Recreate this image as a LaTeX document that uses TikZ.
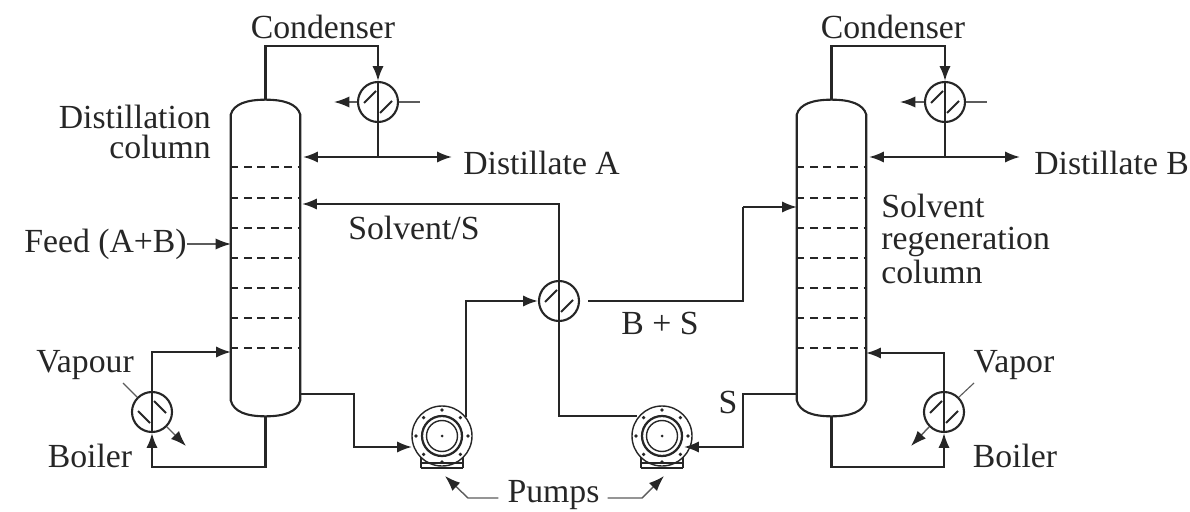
\documentclass[tikz,border=0pt]{standalone}
\usepackage{fontspec}
\setmainfont{Liberation Serif}
\usetikzlibrary{arrows.meta,positioning,calc}
\definecolor{ink}{gray}{0.15}
\tikzstyle{pipe} = [draw=ink, line width=1.5pt]
\tikzstyle{flow} = [pipe, -{Latex[length=10.5pt,width=8pt]}]
\tikzstyle{thinline} = [draw=ink!75, line width=0.8pt]
\tikzstyle{thinflow} = [draw=ink!75, line width=1pt, -{Latex[length=11pt,width=8pt,color=ink]}]
\tikzstyle{hx} = [circle, draw=ink, line width=1.5pt, minimum size=1cm, inner sep=0pt]
\tikzstyle{tower} = [rectangle, minimum width=1.725cm, minimum height=7.9cm, inner sep=0pt]
\tikzstyle{pumpbody} = [circle, draw=ink, line width=1pt, minimum size=1.5cm, inner sep=0pt]
\tikzstyle{label} = [inner sep=0pt, text=ink, font=\fontsize{24}{21.5}\selectfont]

% heat exchanger: name, position, +1 or -1 for the slant
\newcommand{\exchanger}[3]{
  \node[hx] (#1) at (#2) {};
  \draw[pipe,line width=1.3pt] (#1.north) -- (#1.south);
  \draw[pipe,line width=1.3pt] ($(#1)+(#3*-14,1)$) -- ($(#1)+(#3*-2,-11)$);
  \draw[pipe,line width=1.3pt] ($(#1)+(#3*2,11)$) -- ($(#1)+(#3*14,-1)$);
}
% column with its trays: name, position
\newcommand{\column}[2]{
  \node[tower] (#1) at (#2) {};
  \draw[pipe] ($(#1.north west)+(0,15)$) .. controls ($(#1.north west)+(3,4)$) and ($(#1.north)+(-18,0)$) .. (#1.north)
    .. controls ($(#1.north)+(18,0)$) and ($(#1.north east)+(-3,4)$) .. ($(#1.north east)+(0,15)$)
    -- ($(#1.south east)+(0,-16)$)
    .. controls ($(#1.south east)+(-3,-4)$) and ($(#1.south)+(18,0)$) .. (#1.south)
    .. controls ($(#1.south)+(-18,0)$) and ($(#1.south west)+(3,-4)$) .. ($(#1.south west)+(0,-16)$)
    -- cycle;
  \foreach \y in {67,98,128,158,188,218,248}
    \draw[pipe, dash pattern=on 5.5pt off 4pt, line width=1.3pt] ($(#1.north west)+(0,\y)$) -- ($(#1.north east)+(0,\y)$);
}
% pump: name, position
\newcommand{\pump}[2]{
  \node[pumpbody] (#1) at (#2) {};
  \draw[ink,line width=1pt] ($(#1)+(-21,32)$) -- ($(#1)+(21,32)$);
  \draw[ink,line width=1pt] ($(#1)+(-21,27)$) -- ($(#1)+(21,27)$);
  \draw[ink,line width=1pt] ($(#1)+(-21,32)$) -- ($(#1)+(-21,21)$);
  \draw[ink,line width=1pt] ($(#1)+(21,32)$) -- ($(#1)+(21,21)$);
  \draw[ink,line width=1.6pt] (#1) circle (20);
  \draw[ink,line width=1pt] (#1) circle (15.5);
  \fill[ink] (#1) circle (1.5);
  \foreach \a in {45,90,...,360}
    \fill[ink] ($(#1)+(\a:26)$) circle (1.8);
}

\begin{document}
\begin{tikzpicture}[x=0.025cm,y=-0.025cm]
\useasboundingbox (0,0) rectangle (1190,512);

% Columns
\column{col1}{265.5,258}
\column{col2}{831.5,258}

% Exchangers
\exchanger{cond1}{378,102}{1}
\exchanger{cond2}{945,102}{1}
\exchanger{boil1}{152,412}{-1}
\exchanger{boil2}{944,412}{1}
\exchanger{mid}{559,301}{1}

% Pumps
\pump{pump1}{442,436}
\pump{pump2}{662,436}

% Labels
\node[label] (lcond1) at (323,27) {Condenser};
\node[label] (lcond2) at (893,27) {Condenser};
\node[label,align=right,anchor=east] (lcol1) at (211,132) {Distillation\\column};
\node[label,align=left,anchor=west] (lcol2) at (881,239) {Solvent\\[1.5pt]regeneration\\[1.5pt]column};
\node[label,anchor=west] (lfeed) at (24,244) {Feed (A+B)};
\node[label,anchor=west] (ldist1) at (463,163) {Distillate A};
\node[label,anchor=west] (ldist2) at (1034,163) {Distillate B};
\node[label,anchor=west] (lsolv) at (348,228) {Solvent/S};
\node[label] (lbs) at (660,323) {B + S};
\node[label] (ls) at (728,402) {S};
\node[label] (lvap1) at (85,365) {Vapour};
\node[label] (lvap2) at (1014,365) {Vapor};
\node[label] (lboil1) at (90,456) {Boiler};
\node[label] (lboil2) at (1015,456) {Boiler};
\node[label] (lpumps) at (553.5,495) {Pumps};

% Ports
\coordinate (feedin) at (231,244);
\coordinate (reflux1) at (303,157);
\coordinate (reflux2) at (869,157);
\coordinate (dist1) at (452,157);
\coordinate (dist2) at (1020,157);
\coordinate (solv) at (302,204);
\coordinate (bs) at (797,207);
\coordinate (vap1) at (231,352);
\coordinate (vap2) at (866,353);
\coordinate (out1) at (300,394);
\coordinate (out2) at (797,394);
\coordinate (suct1) at (412,447);
\coordinate (suct2) at (684,447);
\coordinate (pout1) at (466,417);
\coordinate (pout2) at (637,416);
\coordinate (cw1a) at (334,102);
\coordinate (cw1b) at (420,102);
\coordinate (cw2a) at (900,102);
\coordinate (cw2b) at (987,102);
\coordinate (bw1a) at (123,383);
\coordinate (bw1b) at (186,446);
\coordinate (bw2a) at (974,383);
\coordinate (bw2b) at (911,446);
\coordinate (tip1) at (445,476);
\coordinate (tip2) at (664,476);

% Overheads
\draw[flow] (col1.north) |- (345,46) -| (cond1.north);
\draw[flow] (col2.north) |- (915,46) -| (cond2.north);
\draw[pipe] (cond1.south) -- (378,157) coordinate (junc1);
\draw[pipe] (cond2.south) -- (945,157) coordinate (junc2);
\draw[flow] (junc1) -- (reflux1);
\draw[flow] (junc1) -- (dist1);
\draw[flow] (junc2) -- (reflux2);
\draw[flow] (junc2) -- (dist2);

% Cooling water
\draw[thinflow] (cond1.west) -- (cw1a);
\draw[thinline] (cond1.east) -- (cw1b);
\draw[thinflow] (cond2.west) -- (cw2a);
\draw[thinline] (cond2.east) -- (cw2b);

% Feed
\draw[thinflow] (lfeed.east) -- (feedin);

% Boilers
\draw[flow] (boil1.north) |- (vap1);
\draw[flow] (boil2.north) |- (vap2);
\draw[flow] (col1.south) |- (152,467) -- (boil1.south);
\draw[flow] (col2.south) |- (944,467) -- (boil2.south);
\draw[thinline] (bw1a) -- (boil1.135);
\draw[thinflow] (boil1.-45) -- (bw1b);
\draw[thinline] (bw2a) -- (boil2.45);
\draw[thinflow] (boil2.-135) -- (bw2b);

% Solvent loop
\draw[flow] (out1) -| (354,447) -- (suct1);
\draw[flow] (pout1) |- (mid.west);
\draw[flow] (mid.north) |- (solv);
\draw[pipe] ($(mid.east)+(8,0)$) -| (743,207);
\draw[flow] (743,207) -- (bs);
\draw[pipe] (mid.south) |- (pout2);
\draw[flow] (out2) -| (743,447) -- (suct2);

% Pump callouts
\draw[thinflow] ($(lpumps.west)+(-9,3)$) -- (468,498) -- (tip1);
\draw[thinflow] ($(lpumps.east)+(8,3)$) -- (642,498) -- (tip2);

\end{tikzpicture}
\end{document}
